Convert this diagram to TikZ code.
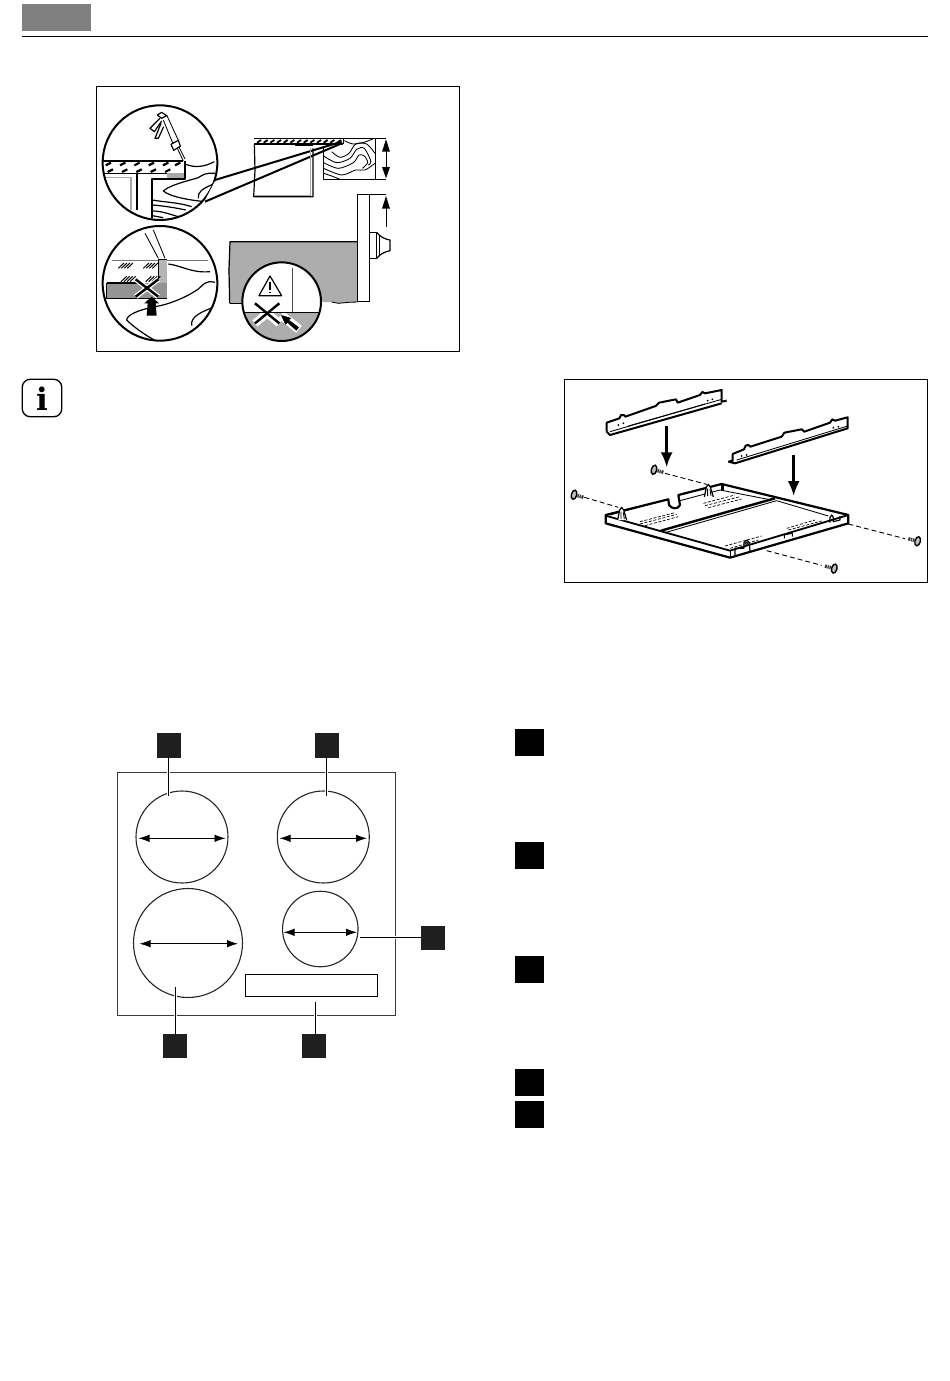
\documentclass[tikz,border=0pt]{standalone}
\usepackage{fontspec}
\newfontfamily\iconf{DejaVu Serif}
\usetikzlibrary{arrows.meta}
\definecolor{hdr}{HTML}{808080}
\definecolor{pan}{HTML}{ADADAD}
\definecolor{framec}{HTML}{3A3A3A}
\definecolor{lgray}{HTML}{A8A8A8}
\tikzset{
  frameb/.style={draw=black,line width=1pt,fill=white},
  lens/.style={draw=black,line width=2pt},
  thin ln/.style={line width=0.85pt,line join=round},
  med ln/.style={line width=1.2pt,line join=round},
  heavy ln/.style={line width=2pt,line join=round},
  blk/.style={fill=black!88,draw=none,minimum width=24.5pt,minimum height=24.5pt,inner sep=0pt},
  blkr/.style={fill=black,draw=none,minimum width=29pt,minimum height=27pt,inner sep=0pt},
  zone/.style={circle,draw=black!85,line width=1.1pt,inner sep=0pt},
  leader/.style={line width=1pt,draw=black,preaction={draw=white,line width=3pt}},
  sizearrow/.style={line width=0.9pt,{Latex[length=11pt,width=7.5pt]}-{Latex[length=11pt,width=7.5pt]}},
  hobframe/.style={draw=framec,line width=1.4pt},
  big arrow/.style={line width=2.6pt,-{Latex[length=15pt,width=12pt]}},
  dashln/.style={line width=0.9pt,dash pattern=on 5pt off 3pt},
  perf/.style={line width=0.7pt,dash pattern=on 3pt off 1.6pt},
  zcoord/.style={shift={(#1)},scale=0.33333}
}
\begin{document}
\begin{tikzpicture}[x=1pt,y=-1pt]
\useasboundingbox (0,0) rectangle (950,1381);
\fill[white] (0,0) rectangle (950,1381);
% header
\node[fill=hdr,draw=none,inner sep=0pt,minimum width=69.5pt,minimum height=27pt] (hdrbox) at (56.5,17.3) {};
\coordinate (ruleL) at (22,36.7);
\coordinate (ruleR) at (928,36.7);
\draw[line width=1pt] (ruleL) -- (ruleR);
% info icon
\node[draw=black,line width=1.3pt,rounded corners=8pt,minimum width=39.5pt,minimum height=37.5pt,inner sep=0pt] (infobox) at (42,398) {};
\node[inner sep=0pt,font=\iconf\fontsize{31}{31}\selectfont\bfseries] (infoi) at (42,398.5) {i};
% ---- upper left frame
\node[frameb,minimum width=363pt,minimum height=265pt,inner sep=0pt] (leftframe) at (277.5,218.5) {};
\begin{scope}[zcoord={95,85}]
  % circle 1
  \begin{scope}
    \clip (195,233) circle (172);
    \draw[med ln] (25,228) -- (262,228) (25,265) -- (272,265);
    \foreach \x in {32,75,118,161,204,240}{
      \draw[line width=2.2pt] (\x,241) -- (\x+16,233);}
    \foreach \x in {38,81,124,167,210}{
      \draw[line width=2.2pt] (\x,261) -- (\x+16,253);}
    \fill[lgray] (215,265) rectangle (270,283);
    \draw[heavy ln] (170,400) -- (170,283) -- (270,283) -- (270,228);
    \draw[heavy ln] (258,228) -- (265,228);
    \draw[line width=1.5pt,lgray] (30,277) -- (108,277) -- (108,375);
    \draw[heavy ln] (125,265) -- (125,375);
    \draw[med ln] (270,237) .. controls (300,250) and (330,245) .. (358,230);
    \draw[med ln] (360,265) .. controls (330,262) and (320,272) .. (310,278) .. controls (270,290) and (225,300) .. (205,318) .. controls (225,335) and (280,345) .. (330,350);
    \draw[med ln] (310,340) .. controls (308,320) and (320,312) .. (360,295);
    \draw[med ln] (172,345) .. controls (210,352) and (250,352) .. (290,365);
    \draw[med ln] (172,360) .. controls (200,362) and (240,368) .. (272,375);
    \draw[med ln] (172,378) .. controls (200,378) and (225,388) .. (250,395);
    \draw[med ln] (172,392) -- (205,398);
    % caulk gun
    \draw[thin ln] (265,228) -- (248,192) (270,222) -- (252,186);
    \draw[med ln,fill=white] (228,178) -- (250,166) -- (256,184) -- (236,196) -- cycle;
    \draw[thin ln] (234,176) -- (205,105) (250,166) -- (215,90);
    \draw[med ln] (187,90) -- (200,82) -- (215,92) -- (200,100) -- cycle;
    \draw[med ln] (195,100) -- (165,130) -- (178,140) -- (200,108);
    \draw[med ln] (198,115) -- (180,160) -- (190,160) -- (206,125);
  \end{scope}
  \draw[lens,fill=none] (195,233) circle (172);
  \fill[white] (359,290) -- (331,344) -- (420,308) -- (420,271) -- cycle;
  \draw[heavy ln] (360,285) -- (740,170);
  \draw[heavy ln] (330,350) -- (740,175);
  % circle 2
  \begin{scope}
    \clip (195,595) circle (172);
    \fill[lgray!85] (190,522) rectangle (215,610);
    \draw[line width=0.8pt] (190,522) -- (190,590) (190,522) -- (215,522);
    \fill[black!42] (35,595) rectangle (215,640);
    \draw[line width=1.5pt,black!55] (50,527) -- (190,527);
    \draw[line width=1.5pt,black!55] (215,527) -- (340,527);
    \draw[heavy ln] (35,594) -- (130,594);
    \draw[med ln] (35,595) -- (35,640) -- (215,640);
    \draw[thin ln] (150,445) -- (190,520) (175,435) -- (210,520);
    \foreach \x/\y in {70/550,145/550,78/590,152/590}{
      \foreach \i in {0,9,18,27}{ \draw[line width=1pt] (\x+\i,\y) -- (\x+\i+17,\y-16);}}
    \draw[med ln] (220,537) .. controls (260,542) and (290,565) .. (345,560);
    \draw[med ln] (360,592) .. controls (330,585) and (325,600) .. (310,612) .. controls (270,640) and (215,660) .. (180,665) .. controls (130,675) and (95,690) .. (95,705) .. controls (115,725) and (150,750) .. (178,765);
    \draw[med ln] (290,722) .. controls (285,695) and (320,680) .. (360,665);
  \end{scope}
  \draw[lens,fill=none] (195,595) circle (172);
  \draw[white,line width=5pt] (122,583) -- (190,635) (190,583) -- (122,635);
  \draw[line width=2.4pt] (122,583) -- (190,635) (190,583) -- (122,635);
  \fill[black] (155,692) -- (158,655) -- (148,655) -- (170,635) -- (192,655) -- (182,655) -- (185,692) -- cycle;
\end{scope}
\begin{scope}[zcoord={225,120}]
  % worktop section
  \draw[med ln] (88,55) -- (355,55) (88,72) -- (355,72) (355,55) -- (355,72);
  \foreach \x in {96,116,...,336}{ \draw[line width=1.8pt] (\x,68) -- (\x+12,60);}
  \draw[med ln] (88,72) -- (90,150) -- (86,230) -- (264,230) -- (264,85);
  \draw[line width=1.2pt,lgray] (256,228) -- (256,85) (90,226) -- (256,226);
  \draw[thin ln] (212,72) -- (212,77) -- (264,77);
  % wood block
  \draw[med ln] (355,55) -- (483,55) (295,85) -- (295,178) -- (483,178) (452,55) -- (452,178);
  \draw[thin ln] plot[smooth] coordinates {(358,62) (385,72) (420,66) (445,56)};
  \draw[thin ln] plot[smooth] coordinates {(320,95) (345,112) (372,100) (392,72) (425,72) (450,100)};
  \draw[thin ln] plot[smooth] coordinates {(296,108) (335,128) (375,115) (395,88) (418,85) (438,125) (430,135)};
  \draw[thin ln] plot[smooth] coordinates {(296,128) (340,145) (385,128) (402,105) (418,108) (428,128) (412,145)};
  \draw[thin ln] plot[smooth] coordinates {(296,145) (350,165) (392,150) (420,150) (450,130)};
  \draw[thin ln] plot[smooth] coordinates {(296,160) (320,168) (345,178)};
  % dimension arrow
  \draw[line width=0.9pt] (483,90) -- (483,145);
  \fill (483,58) -- (495,95) -- (471,95) -- cycle;
  \fill (483,175) -- (495,141) -- (471,141) -- cycle;
  % cabinet
  \fill[pan] (15,365) -- (398,365) -- (398,545) -- (370,548) -- (340,550) -- (320,546) -- (15,550) -- (10,450) -- cycle;
  \draw[med ln] (14,550) -- (12,450) -- (15,365) -- (398,365);
  \draw[med ln] (14,550) -- (60,550);
  \draw[thin ln] (320,546) -- (340,550) -- (370,547) -- (398,546);
  \draw[med ln] (398,545) -- (398,223) -- (433,223) -- (433,545);
  \draw[thin ln] (398,545) -- (433,545);
  \draw[med ln] (433,223) -- (483,223);
  \draw[line width=0.9pt] (483,320) -- (483,260);
  \fill (483,228) -- (495,266) -- (471,266) -- cycle;
  % knob
  \draw[med ln] (433,337) -- (455,337) -- (455,415) -- (433,415);
  \draw[med ln] (455,337) .. controls (465,350) and (480,358) .. (495,360) -- (495,392) .. controls (480,395) and (465,402) .. (455,415);
  \draw[thin ln] (462,345) -- (462,407);
  % circle 3
  \fill[white] (170,545) circle (118);
  \begin{scope}
    \clip (170,545) circle (118);
    \fill[pan] (50,577) rectangle (290,670);
    \draw[white,line width=8pt] (90,550) -- (163,610) (90,610) -- (163,550);
    \draw[white,line width=9pt] (168,585) -- (222,628);
    \draw[line width=1.4pt,black!70] (203,445) -- (203,577);
    \draw[line width=1.5pt] (50,577) -- (290,577);
  \end{scope}
  \draw[lens,fill=none] (170,545) circle (118);
  \draw[line width=2.4pt] (90,550) -- (163,610) (90,610) -- (163,550);
  \draw[med ln] (135,468) -- (170,527) -- (102,527) -- cycle;
  \draw[line width=1.1pt] (135,485) -- (135,510) (135,515) -- (135,520);
  \fill (168,585) -- (198,594) -- (192,600) -- (222,622) -- (214,632) -- (187,608) -- (181,614) -- cycle;
\end{scope}
% ---- upper right frame
\node[frameb,minimum width=363.5pt,minimum height=203pt,inner sep=0pt] (rightframe) at (746,480.5) {};
\begin{scope}[zcoord={565,380}]
  % bracket 1
  \draw[heavy ln] (125,155) -- (125,128) -- (163,115) -- (168,105) -- (176,105) -- (181,110) -- (272,78) -- (282,68) -- (333,58) -- (338,68) -- (405,45) -- (412,36) -- (420,40) -- (470,30) -- (470,65) -- (485,62);
  \draw[heavy ln] (125,155) -- (135,165) -- (470,70);
  \draw[thin ln] (135,155) -- (470,58);
  \draw[thin ln] (190,138) -- (420,72);
  \foreach \p in {(160,135),(175,130),(428,62),(442,58)}{\fill \p circle (3);}
  % bracket 2
  \draw[heavy ln] (490,245) -- (503,242) -- (503,222) -- (537,208) -- (542,197) -- (550,195) -- (556,200) -- (650,170) -- (658,158) -- (710,148) -- (718,155) -- (795,128) -- (802,118) -- (810,122) -- (848,112) -- (848,145) -- (510,250) -- (490,245);
  \draw[thin ln] (515,240) -- (848,138);
  \foreach \p in {(530,228),(545,225),(805,143),(820,140)}{\fill \p circle (3);}
  % arrows
  \draw[big arrow] (305,138) -- (305,262);
  \draw[big arrow] (686,225) -- (686,348);
  % dashes
  \coordinate (s1) at (58,352); \coordinate (e1) at (160,382);
  \coordinate (s2) at (300,280); \coordinate (e2) at (425,313);
  \coordinate (s3) at (850,432); \coordinate (e3) at (1020,476);
  \coordinate (s4) at (605,512); \coordinate (e4) at (770,556);
  \draw[dashln] (s1) -- (e1);
  \draw[dashln] (s2) -- (e2);
  \draw[dashln] (s3) -- (e3);
  \draw[dashln] (s4) -- (e4);
  % tray
  \draw[line width=2.2pt,line join=round] (122,405) -- (310,358) -- (312,375) .. controls (320,388) and (340,388) .. (345,375) -- (340,345) -- (470,312) -- (850,405) -- (850,430) -- (495,533) -- (122,430) -- cycle;
  \draw[line width=1.8pt,line join=round] (122,407) -- (495,512) -- (850,405);
  \draw[thin ln] (495,512) -- (495,533);
  \draw[line width=2.4pt] (288,452) -- (630,355);
  \draw[thin ln] (300,458) -- (635,362) -- (790,408);
  \draw[thin ln] (135,405) -- (300,360);
  \draw[thin ln] (345,362) -- (465,330) -- (620,360);
  \draw[line width=2.4pt] (472,315) -- (472,333);
  \draw[perf] (225,425) -- (330,398) (225,432) -- (335,403) (240,437) -- (340,410);
  \draw[perf] (415,370) -- (510,345) (420,377) -- (525,350) (430,383) -- (530,357);
  \draw[perf] (480,498) -- (590,468) (495,505) -- (580,480);
  \draw[perf] (665,445) -- (750,420) (670,450) -- (770,423);
  % clips
  \foreach \x/\y in {170/385,430/316}{
    \draw[med ln,fill=white] (\x-12,\y+35) -- (\x-6,\y+5) -- (\x,\y-3) -- (\x+6,\y+5) -- (\x+15,\y+35);
    \draw[thin ln] (\x-2,\y+10) -- (\x-2,\y+32) (\x+5,\y+12) -- (\x+8,\y+32);}
  \draw[med ln] (537,505) -- (537,488) -- (545,480) -- (553,488) -- (555,515) (510,505) -- (510,525) (537,505) -- (510,505);
  \draw[thin ln] (545,490) circle (4);
  \draw[med ln] (795,428) -- (795,412) -- (800,405) -- (805,412) -- (805,425) -- (825,420) -- (825,408);
  \draw[thin ln] (658,475) -- (658,465) -- (682,460) -- (682,470);
  % screws
  \foreach \x/\y/\r in {30/345/-15,270/270/-15,1055/483/165,805/565/165}{
    \begin{scope}[shift={(\x,\y)},rotate=\r]
      \fill[black!80] (0,-5) rectangle (26,5);
      \foreach \i in {7,13,19}{\draw[white,line width=0.5pt] (\i,-5) -- (\i,5);}
      \draw[line width=1.4pt,fill=black!25] (-3,0) ellipse (8 and 14);
    \end{scope}}
\end{scope}
% ---- hob
\draw[hobframe] (117.3,772.3) rectangle (395.7,1015.7);
\node[zone,minimum size=92pt] (z1) at (182,837) {};
\node[zone,minimum size=92pt] (z2) at (323.3,837) {};
\node[zone,minimum size=109pt] (z3) at (188,943) {};
\node[zone,minimum size=75.5pt] (z4) at (320.3,929) {};
\node[draw=black,line width=1pt,minimum width=132.4pt,minimum height=21.7pt,inner sep=0pt] (panel) at (311.5,985.8) {};
\coordinate (a1L) at (138.5,838.3); \coordinate (a1R) at (225.5,838.3);
\coordinate (a2L) at (279.5,838.3); \coordinate (a2R) at (367,838.3);
\coordinate (a3L) at (139.5,943.7); \coordinate (a3R) at (238,943.7);
\coordinate (a4L) at (283.5,932.3); \coordinate (a4R) at (357,932.3);
\draw[sizearrow] (a1L) -- (a1R);
\draw[sizearrow] (a2L) -- (a2R);
\draw[sizearrow] (a3L) -- (a3R);
\draw[sizearrow] (a4L) -- (a4R);
\node[blk] (b1) at (169.2,745.5) {};
\node[blk] (b2) at (327.2,745.5) {};
\node[blk] (b3) at (433.2,938.2) {};
\node[blk] (b4) at (174.8,1046.2) {};
\node[blk] (b5) at (314.2,1046.2) {};
\coordinate (l1) at (168.7,795.5);
\coordinate (l2) at (326.3,795.5);
\coordinate (l3) at (359.5,937);
\coordinate (l4) at (175.7,986.7);
\coordinate (l5) at (315.3,1001.7);
\draw[leader] (b1.south -| l1) -- (l1);
\draw[leader] (b2.south -| l2) -- (l2);
\draw[leader] (b3.west |- l3) -- (l3);
\draw[leader] (b4.north -| l4) -- (l4);
\draw[leader] (b5.north -| l5) -- (l5);
% ---- legend squares
\node[blkr] (r1) at (529.2,742.5) {};
\node[blkr] (r2) at (529.2,855.8) {};
\node[blkr] (r3) at (529.2,969) {};
\node[blkr] (r4) at (529.2,1082) {};
\node[blkr] (r5) at (529.2,1114) {};
\end{tikzpicture}
\end{document}
